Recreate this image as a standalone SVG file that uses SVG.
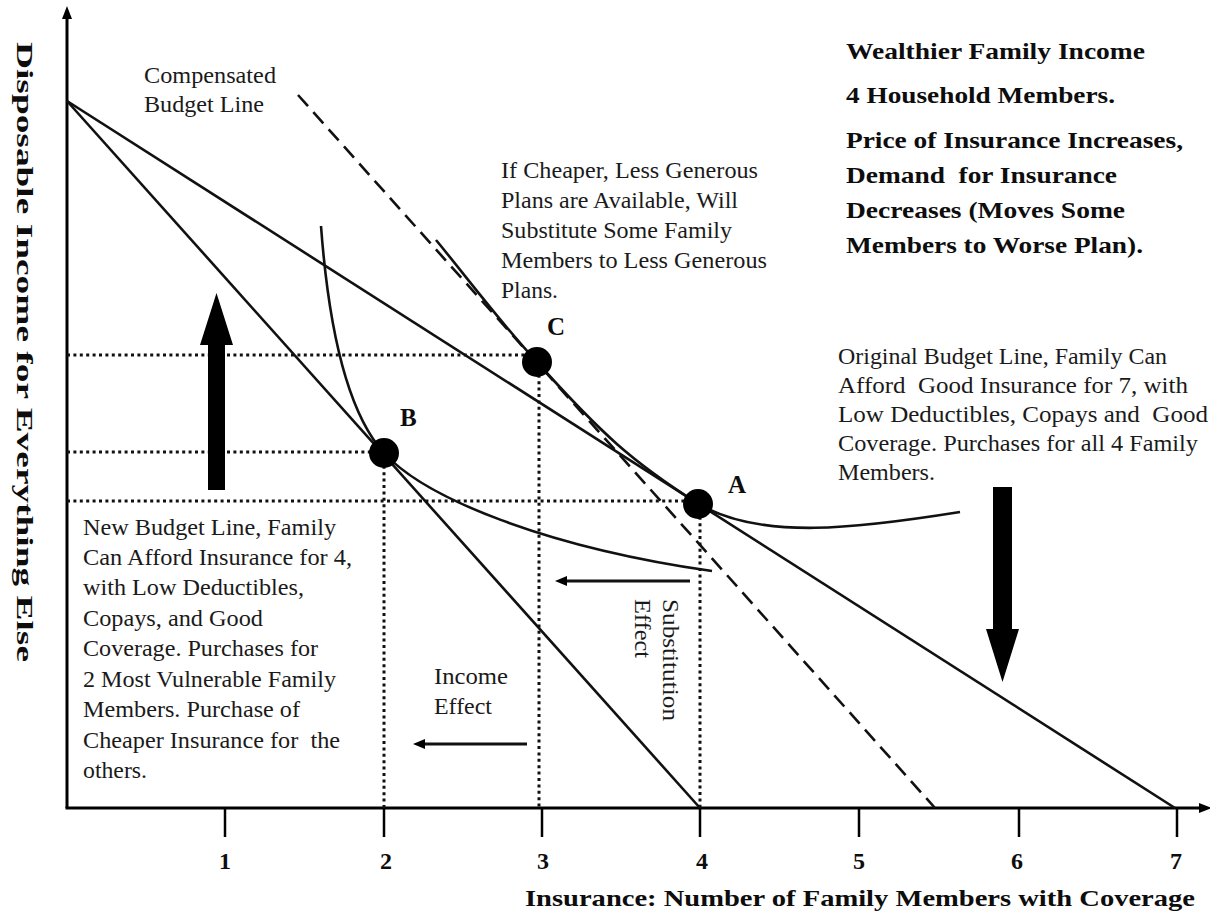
<svg xmlns="http://www.w3.org/2000/svg" width="1210" height="915" viewBox="0 0 1210 915">
  <defs>
    <style>
      .axis{stroke:#000;stroke-width:3;fill:none}
      .tick{stroke:#000;stroke-width:2.5;fill:none}
      .budget{stroke:#111;stroke-width:2.6;fill:none}
      .comp{stroke:#111;stroke-width:2.6;fill:none;stroke-dasharray:15 8}
      .guide{stroke:#111;stroke-width:3;fill:none;stroke-dasharray:3 3.4}
      .indiff{stroke:#111;stroke-width:2.6;fill:none}
      .effect{stroke:#111;stroke-width:3;fill:none}
      .bigarrow{fill:#000}
      .pt{fill:#000}
      text{font-family:"Liberation Serif","Times New Roman",serif;font-size:24px;fill:#1a1a1a}
      .bold{font-weight:bold;fill:#0d0d0d}
      .ptlabel{font-weight:bold;font-size:25px;fill:#0d0d0d}
      .ticklabel{font-weight:bold;font-size:24px;text-anchor:middle;fill:#0d0d0d}
    </style>
    <marker id="head" viewBox="0 0 12 10" refX="3" refY="5" markerWidth="12" markerHeight="10" markerUnits="userSpaceOnUse" orient="auto">
      <path d="M0,0 L12,5 L0,10 Z" fill="#000"/>
    </marker>
  </defs>

  <rect width="1210" height="915" fill="#fff"/>

  <!-- axes with ticks -->
  <g id="axes">
    <line class="axis" x1="67" y1="808" x2="67" y2="16"/>
    <path d="M67,6 L72,19 L62,19 Z" fill="#000"/>
    <line class="axis" x1="65.5" y1="808" x2="1202" y2="808"/>
    <path d="M1212,808 L1199,803 L1199,813 Z" fill="#000"/>
    <g class="tick">
      <line x1="225" y1="808" x2="225" y2="837"/>
      <line x1="384" y1="808" x2="384" y2="837"/>
      <line x1="542" y1="808" x2="542" y2="837"/>
      <line x1="700" y1="808" x2="700" y2="837"/>
      <line x1="859" y1="808" x2="859" y2="837"/>
      <line x1="1019" y1="808" x2="1019" y2="837"/>
      <line x1="1177" y1="808" x2="1177" y2="837"/>
    </g>
    <text class="ticklabel" x="225" y="869">1</text>
    <text class="ticklabel" x="386" y="869">2</text>
    <text class="ticklabel" x="543" y="869">3</text>
    <text class="ticklabel" x="702" y="869">4</text>
    <text class="ticklabel" x="859" y="869">5</text>
    <text class="ticklabel" x="1017" y="869">6</text>
    <text class="ticklabel" x="1176" y="869">7</text>
    <text class="bold" x="525" y="906" font-size="25" textLength="670" lengthAdjust="spacingAndGlyphs">Insurance: Number of Family Members with Coverage</text>
    <text class="bold" transform="translate(17,42) rotate(90)" font-size="27" textLength="620" lengthAdjust="spacingAndGlyphs">Disposable Income for Everything Else</text>
  </g>

  <!-- budget lines, indifference curves, guides and effect arrows -->
  <g id="connectors">
    <line id="original-budget" class="budget" x1="67" y1="101" x2="1175" y2="808"/>
    <line id="new-budget" class="budget" x1="67" y1="101" x2="700" y2="808"/>
    <line id="compensated-budget" class="comp" x1="298" y1="95" x2="935" y2="808"/>

    <path id="curve-low" class="indiff" d="M321,226 C328,320 345,410 384,453 C425,498 545,547 712,571"/>
    <path id="curve-high" class="indiff" d="M436,240 C465,275 500,322 537,362 C601,433.6 633,462.3 698,503.5 C760,541 860,528 960,512"/>

    <line class="guide" x1="67" y1="355" x2="537" y2="355"/>
    <line class="guide" x1="67" y1="452" x2="384" y2="452"/>
    <line class="guide" x1="67" y1="501" x2="698" y2="501"/>
    <line class="guide" x1="384" y1="453" x2="384" y2="808"/>
    <line class="guide" x1="539" y1="362" x2="539" y2="808"/>
    <line class="guide" x1="700" y1="504" x2="700" y2="808"/>

    <line id="substitution-arrow" class="effect" x1="690" y1="581" x2="564" y2="581" marker-end="url(#head)"/>
    <line id="income-arrow" class="effect" x1="527" y1="744" x2="422" y2="744" marker-end="url(#head)"/>

    <polygon id="up-arrow" class="bigarrow" points="208,490 225,490 225,345 233,345 216.5,293 200,345 208,345"/>
    <polygon id="down-arrow" class="bigarrow" points="993,487 1012,487 1012,629 1019,629 1002.5,682 986,629 993,629"/>
  </g>

  <!-- equilibrium points -->
  <g id="point-A">
    <circle class="pt" cx="698" cy="504" r="15"/>
    <text class="ptlabel" x="728" y="493">A</text>
  </g>
  <g id="point-B">
    <circle class="pt" cx="384" cy="453" r="15"/>
    <text class="ptlabel" x="400" y="426">B</text>
  </g>
  <g id="point-C">
    <circle class="pt" cx="537" cy="362" r="15"/>
    <text class="ptlabel" x="547" y="335">C</text>
  </g>

  <!-- annotations -->
  <g id="label-compensated">
    <text x="144" y="83" textLength="132" lengthAdjust="spacingAndGlyphs">Compensated</text>
    <text x="144" y="112" textLength="120" lengthAdjust="spacingAndGlyphs">Budget Line</text>
  </g>

  <g id="label-substitute">
    <text x="501" y="178" textLength="257" lengthAdjust="spacingAndGlyphs">If Cheaper, Less Generous</text>
    <text x="501" y="208" textLength="237" lengthAdjust="spacingAndGlyphs">Plans are Available, Will</text>
    <text x="501" y="238" textLength="231" lengthAdjust="spacingAndGlyphs">Substitute Some Family</text>
    <text x="501" y="268" textLength="266" lengthAdjust="spacingAndGlyphs">Members to Less Generous</text>
    <text x="501" y="298" textLength="57" lengthAdjust="spacingAndGlyphs">Plans.</text>
  </g>

  <g id="label-title">
    <text class="bold" x="846" y="59" textLength="299" lengthAdjust="spacingAndGlyphs">Wealthier Family Income</text>
    <text class="bold" x="846" y="103" textLength="269" lengthAdjust="spacingAndGlyphs">4 Household Members.</text>
    <text class="bold" x="846" y="148" textLength="337" lengthAdjust="spacingAndGlyphs">Price of Insurance Increases,</text>
    <text class="bold" x="846" y="183" textLength="271" lengthAdjust="spacingAndGlyphs" xml:space="preserve">Demand  for Insurance</text>
    <text class="bold" x="846" y="218" textLength="279" lengthAdjust="spacingAndGlyphs">Decreases (Moves Some</text>
    <text class="bold" x="846" y="253" textLength="297" lengthAdjust="spacingAndGlyphs">Members to Worse Plan).</text>
  </g>

  <g id="label-original">
    <text x="838" y="364" textLength="329" lengthAdjust="spacingAndGlyphs">Original Budget Line, Family Can</text>
    <text x="838" y="393" textLength="350" lengthAdjust="spacingAndGlyphs" xml:space="preserve">Afford  Good Insurance for 7, with</text>
    <text x="838" y="422" textLength="370" lengthAdjust="spacingAndGlyphs" xml:space="preserve">Low Deductibles, Copays and  Good</text>
    <text x="838" y="451" textLength="360" lengthAdjust="spacingAndGlyphs">Coverage. Purchases for all 4 Family</text>
    <text x="838" y="480" textLength="97" lengthAdjust="spacingAndGlyphs">Members.</text>
  </g>

  <g id="label-new">
    <text x="83" y="535" textLength="253" lengthAdjust="spacingAndGlyphs">New Budget Line, Family</text>
    <text x="83" y="565" textLength="269" lengthAdjust="spacingAndGlyphs">Can Afford Insurance for 4,</text>
    <text x="83" y="595" textLength="221" lengthAdjust="spacingAndGlyphs">with Low Deductibles,</text>
    <text x="83" y="626" textLength="180" lengthAdjust="spacingAndGlyphs">Copays, and Good</text>
    <text x="83" y="656" textLength="235" lengthAdjust="spacingAndGlyphs">Coverage. Purchases for</text>
    <text x="83" y="687" textLength="253" lengthAdjust="spacingAndGlyphs">2 Most Vulnerable Family</text>
    <text x="83" y="717" textLength="217" lengthAdjust="spacingAndGlyphs">Members. Purchase of</text>
    <text x="83" y="748" textLength="257" lengthAdjust="spacingAndGlyphs" xml:space="preserve">Cheaper Insurance for  the</text>
    <text x="83" y="778" textLength="64" lengthAdjust="spacingAndGlyphs">others.</text>
  </g>

  <g id="label-income-effect">
    <text x="434" y="684" textLength="74" lengthAdjust="spacingAndGlyphs">Income</text>
    <text x="434" y="714" textLength="58" lengthAdjust="spacingAndGlyphs">Effect</text>
  </g>

  <g id="label-substitution-effect">
    <text transform="translate(663,599) rotate(90)" textLength="122" lengthAdjust="spacingAndGlyphs">Substitution</text>
    <text transform="translate(635,599) rotate(90)" textLength="59" lengthAdjust="spacingAndGlyphs">Effect</text>
  </g>
</svg>
